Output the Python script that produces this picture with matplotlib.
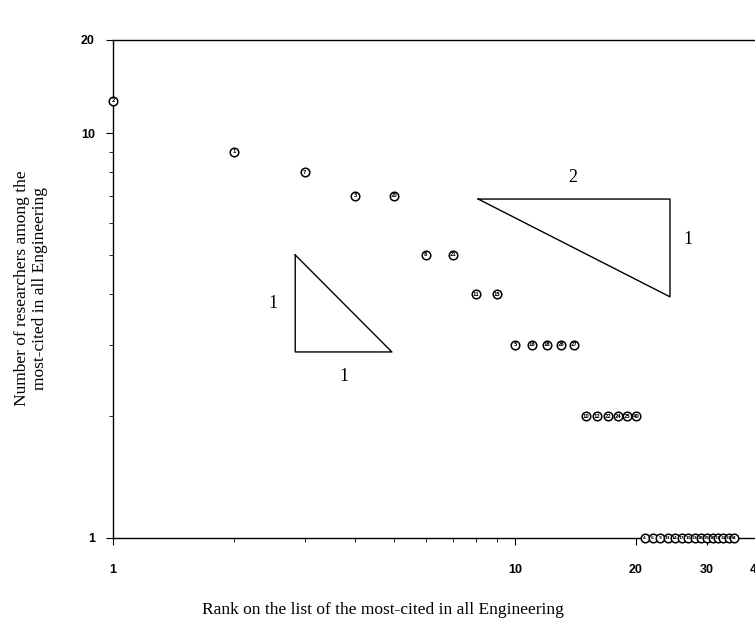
import numpy as np
import matplotlib.pyplot as plt

# rank on the list vs number of researchers
rank = list(range(1, 36))
researchers = [12, 9, 8, 7, 7, 5, 5, 4, 4,
               3, 3, 3, 3, 3,
               2, 2, 2, 2, 2, 2,
               1, 1, 1, 1, 1, 1, 1, 1, 1, 1, 1, 1, 1, 1, 1]
# tiny ids printed inside the circles (hard to read in the original)
ids = ['2', '1', '7', '3', '20', '8', '21', '11', '15',
       '5', '16', '18', '26', '27',
       '10', '12', '22', '24', '25', '40',
       '4', '6', '9', '13', '14', '17', '19', '23', '28', '29',
       '30', '31', '32', '33', '34']

# slope triangles: (x0, x1, y_low, y_high)
small_tri = (2.84, 4.94, 2.88, 5.0)
big_tri = (8.1, 24.3, 3.94, 6.87)

fig = plt.figure(figsize=(7.55, 6.2), dpi=100)
ax = fig.add_axes([113 / 755, 82 / 620, 644 / 755, 498 / 620])
ax.set_xscale('log')
ax.set_yscale('log')
ax.set_xlim(1, 40)
ax.set_ylim(1, 16.97)

ax.scatter(rank, researchers, s=38, facecolor='white', edgecolor='black',
           linewidth=1.1, zorder=3, clip_on=False)
for x, y, t in zip(rank, researchers, ids):
    ax.text(x, y, t, fontsize=3 if y == 1 else 3.5, ha='center', va='center',
            zorder=4, fontweight='bold', clip_on=False)

# triangles
x0, x1, yl, yh = small_tri
ax.plot([x0, x0, x1, x0], [yh, yl, yl, yh], color='black', lw=1.0)
ax.text(x0 * 0.88, np.sqrt(yl * yh), '1', family='Liberation Serif',
        fontsize=13, ha='center', va='center')
ax.text(np.sqrt(x0 * x1), yl * 0.87, '1', family='Liberation Serif',
        fontsize=13, ha='center', va='center')

x0, x1, yl, yh = big_tri
ax.plot([x0, x1, x1, x0], [yh, yh, yl, yh], color='black', lw=1.0)
ax.text(np.sqrt(x0 * x1) * 0.99, yh * 1.13, '2', family='Liberation Serif',
        fontsize=13, ha='center', va='center')
ax.text(x1 * 1.11, np.sqrt(yl * yh) * 1.05, '1', family='Liberation Serif',
        fontsize=13, ha='center', va='center')

# axes look
ax.spines['right'].set_visible(False)
for s in ['left', 'bottom', 'top']:
    ax.spines[s].set_linewidth(1.0)

ax.set_xticks([1, 10, 20, 30, 40])
ax.set_xticklabels(['1', '10', '20', '30', '40'])
ax.set_xticks([2, 3, 4, 5, 6, 7, 8, 9], minor=True)
ax.xaxis.set_minor_formatter(plt.NullFormatter())
ax.set_yticks([1, 10, 16.97])
ax.set_yticklabels(['1', '10', '20'])
ax.set_yticks([2, 3, 4, 5, 6, 7, 8, 9], minor=True)
ax.yaxis.set_minor_formatter(plt.NullFormatter())

ax.tick_params(axis='x', which='major', direction='out', length=5, pad=14,
               labelsize=9)
ax.tick_params(axis='x', which='minor', direction='out', length=3)
ax.tick_params(axis='y', which='major', direction='out', length=5, pad=8,
               labelsize=9)
ax.tick_params(axis='y', which='minor', direction='out', length=3)
for lab in ax.get_xticklabels() + ax.get_yticklabels():
    lab.set_family('Liberation Sans')
    lab.set_fontweight('semibold')

fig.text(383 / 755, 1 - 610 / 620,
         'Rank on the list of the most-cited in all Engineering',
         family='Liberation Serif', fontsize=12.5, ha='center', va='center')
fig.text(31 / 755, 1 - 288 / 620,
         'Number of researchers among the\nmost-cited in all Engineering',
         family='Liberation Serif', fontsize=12.5, ha='center', va='center',
         rotation=90, linespacing=1.15)

fig.savefig('out.png', dpi=100)
